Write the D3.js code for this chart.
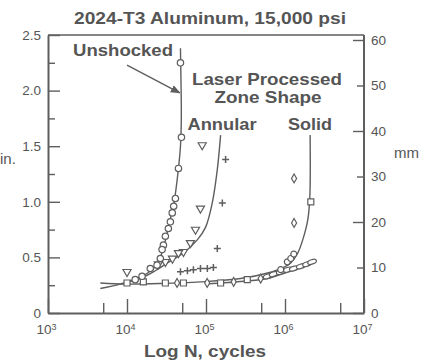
<!DOCTYPE html>
<html>
<head>
<meta charset="utf-8">
<script src="https://cdn.jsdelivr.net/npm/d3@7"></script>
<style>
  html, body { margin: 0; padding: 0; background: #fff; }
  svg { display: block; }
  text { font-family: "Liberation Sans", Arial, sans-serif; fill: #555; }
</style>
</head>
<body>
<svg id="chart" width="425" height="361"></svg>
<script>
// Crack length a (in.) versus cycles N for 2024-T3 aluminium at 15,000 psi

// Unshocked specimens (circles)
const unshockedN = [47500, 48900, 44800, 41000, 39000, 37400, 35400, 33400, 30600, 28900, 27800, 26400, 24000, 19700, 15500, 12700];
const unshockedA = [2.25, 1.58, 1.30, 1.03, 0.96, 0.90, 0.82, 0.76, 0.69, 0.61, 0.57, 0.49, 0.43, 0.40, 0.33, 0.30];

// Annular laser-processed zone (inverted triangles)
const annularTriN = [89500, 85100, 73600, 63500, 51800, 44800, 37600, 30600, 24900, 10000];
const annularTriA = [1.51, 0.94, 0.75, 0.63, 0.55, 0.54, 0.49, 0.46, 0.44, 0.37];

// Annular laser-processed zone (plus signs)
const annularPlusN = [177000, 161000, 139000, 124000, 104000, 85100, 69300, 58200, 47500];
const annularPlusA = [1.38, 0.99, 0.58, 0.41, 0.40, 0.40, 0.39, 0.38, 0.37];

// Solid laser-processed zone (squares)
const solidSqN = [2122000, 10000, 16100, 30600, 51800, 153000, 333000];
const solidSqA = [1.00, 0.27, 0.28, 0.27, 0.27, 0.27, 0.30];

// Solid laser-processed zone (diamonds)
const solidDiaN = [1303000, 1303000, 103500, 224000, 492000, 43000];
const solidDiaA = [1.21, 0.81, 0.27, 0.28, 0.31, 0.27];

// Solid laser-processed zone (circles near the knee)
const solidCircN = [883000, 1070000, 1183000, 1292000];
const solidCircA = [0.39, 0.46, 0.49, 0.53];

// Long-life band (elongated circles)
const bandN = [604000, 720000, 883000, 1084000, 1292000, 1585000, 1900000, 2200000];
const bandA = [0.33, 0.35, 0.37, 0.39, 0.40, 0.42, 0.44, 0.46];

// Fitted curves
const unshockedCurveN = [11000, 15500, 20000, 24000, 27000, 30000, 33000, 36000, 39500, 44000, 47500, 48700, 48200, 47500];
const unshockedCurveA = [0.29, 0.33, 0.38, 0.44, 0.52, 0.63, 0.75, 0.87, 1.00, 1.25, 1.50, 1.75, 2.10, 2.38];
const annularCurveN = [4600, 8200, 14700, 22800, 32400, 51800, 78000, 98600, 120000, 139000, 153000];
const annularCurveA = [0.22, 0.26, 0.31, 0.38, 0.45, 0.54, 0.66, 0.77, 0.99, 1.29, 1.60];
const solidCurveN = [4600, 9500, 26400, 85000, 274000, 604000, 960000, 1183000, 1453000, 1680000, 1944000, 2061000, 2080000];
const solidCurveA = [0.27, 0.26, 0.265, 0.28, 0.31, 0.36, 0.41, 0.45, 0.54, 0.66, 0.84, 1.04, 1.60];
const bandCurveN = [100000, 300000, 600000, 1000000, 1500000, 2200000];
const bandCurveA = [0.26, 0.285, 0.31, 0.36, 0.40, 0.445];

// Axis ticks
const inchTicks = [0, 0.5, 1.0, 1.5, 2.0, 2.5];
const inchMinor = [0.25, 0.75, 1.25, 1.75, 2.25];
const mmTicks = [0, 10, 20, 30, 40, 50, 60];
const decadeTicks = [1e3, 1e4, 1e5, 1e6, 1e7];
const halfDecadeTicks = [5e3, 5e4, 5e5, 5e6];

// Annotation arrow for "Unshocked" (data units)
const arrowFrom = [10000, 2.23];
const arrowTo = [46500, 1.98];

const ink = "#5e5e5e";
const svg = d3.select("#chart");

const x = d3.scaleLog().domain([1e3, 1e7]).range([48, 364]);
const y = d3.scaleLinear().domain([0, 2.5]).range([313, 35]);
const yMm = d3.scaleLinear().domain([0, 60]).range([313, 40]);

// Frame
svg.append("line").attr("x1", 48).attr("x2", 364).attr("y1", 35).attr("y2", 35)
  .attr("stroke", ink).attr("stroke-width", 1.6);

function styleAxis(g) {
  g.select(".domain").attr("stroke", ink).attr("stroke-width", 2);
  g.selectAll(".tick line").attr("stroke", ink).attr("stroke-width", 1.4);
  g.selectAll(".tick text").attr("fill", "#555").style("font-family", "Liberation Sans, Arial, sans-serif");
}

// Left axis (inches)
const gLeft = svg.append("g").attr("transform", "translate(48,0)")
  .call(d3.axisLeft(y).tickValues(inchTicks).tickSizeInner(-12).tickSizeOuter(0).tickPadding(7)
    .tickFormat(d => d === 0 ? "0" : d3.format(".1f")(d)));
styleAxis(gLeft);
gLeft.selectAll(".tick text").style("font-size", "13.5px");
const gLeftMinor = svg.append("g").attr("transform", "translate(48,0)")
  .call(d3.axisLeft(y).tickValues(inchMinor).tickSizeInner(-7).tickSizeOuter(0).tickFormat(""));
styleAxis(gLeftMinor);
gLeftMinor.select(".domain").remove();

// Right axis (mm)
const gRight = svg.append("g").attr("transform", "translate(364,0)")
  .call(d3.axisRight(yMm).tickValues(mmTicks).tickSizeInner(-11).tickSizeOuter(0).tickPadding(7));
styleAxis(gRight);
gRight.selectAll(".tick line").attr("x2", d => (d % 20 === 0 ? -11 : -7));
gRight.selectAll(".tick text").style("font-size", "13.5px");
gRight.select(".domain").attr("d", "M0,35V313");

// Bottom axis (log cycles)
const gBottom = svg.append("g").attr("transform", "translate(0,313)")
  .call(d3.axisBottom(x).tickValues(decadeTicks).tickSizeInner(-14).tickSizeOuter(0).tickPadding(11).tickFormat(""));
styleAxis(gBottom);
gBottom.selectAll(".tick text").each(function (d) {
  const t = d3.select(this).style("font-size", "13.5px").attr("x", -2);
  t.append("tspan").text("10");
  t.append("tspan").text(Math.round(Math.log10(d))).attr("dy", "-0.45em").style("font-size", "9px");
});
const gBottomMinor = svg.append("g").attr("transform", "translate(0,313)")
  .call(d3.axisBottom(x).tickValues(halfDecadeTicks).tickSizeInner(-10).tickSizeOuter(0).tickFormat(""));
styleAxis(gBottomMinor);
gBottomMinor.select(".domain").remove();

// Curves
const line = d3.line().x(d => x(d[0])).y(d => y(d[1])).curve(d3.curveCatmullRom.alpha(0.5));
function curve(ns, as) {
  svg.append("path").datum(ns.map((n, i) => [n, as[i]])).attr("d", line)
    .attr("fill", "none").attr("stroke", ink).attr("stroke-width", 1.4);
}
curve(unshockedCurveN, unshockedCurveA);
curve(annularCurveN, annularCurveA);
curve(solidCurveN, solidCurveA);
curve(bandCurveN, bandCurveA);

// Markers
function markers(ns, as, type, size) {
  const pts = ns.map((n, i) => [n, as[i]]);
  const g = svg.append("g");
  if (type === "plus") {
    g.selectAll("path").data(pts).join("path")
      .attr("d", d => { const cx = x(d[0]), cy = y(d[1]), s = size; return `M${cx - s},${cy}H${cx + s}M${cx},${cy - s}V${cy + s}`; })
      .attr("stroke", ink).attr("stroke-width", 1.5).attr("fill", "none");
  } else if (type === "ellipse") {
    g.selectAll("ellipse").data(pts).join("ellipse")
      .attr("cx", d => x(d[0])).attr("cy", d => y(d[1])).attr("rx", size + 1.5).attr("ry", size - 0.8)
      .attr("transform", d => `rotate(-18,${x(d[0])},${y(d[1])})`)
      .attr("fill", "#fff").attr("stroke", ink).attr("stroke-width", 1.2);
  } else {
    const sym = { circle: d3.symbolCircle, square: d3.symbolSquare, diamond: d3.symbolDiamond, triangle: d3.symbolTriangle }[type];
    const area = type === "circle" ? Math.PI * size * size : (type === "square" ? (2 * size) ** 2 : 2.2 * size * size);
    g.selectAll("path").data(pts).join("path")
      .attr("d", d3.symbol().type(sym).size(area))
      .attr("transform", d => `translate(${x(d[0])},${y(d[1])})${type === "triangle" ? " rotate(180)" : ""}`)
      .attr("fill", "#fff").attr("stroke", ink).attr("stroke-width", 1.2);
  }
}
markers(bandN, bandA, "ellipse", 3);
markers(solidCircN, solidCircA, "circle", 3);
markers(solidSqN, solidSqA, "square", 3);
markers(solidDiaN, solidDiaA, "diamond", 3.2);
markers(annularPlusN, annularPlusA, "plus", 3.5);
markers(annularTriN, annularTriA, "triangle", 3.6);
markers(unshockedN, unshockedA, "circle", 3.2);

// Arrow pointing to the unshocked curve
svg.append("defs").append("marker").attr("id", "head").attr("viewBox", "0 0 10 10")
  .attr("refX", 9).attr("refY", 5).attr("markerWidth", 7).attr("markerHeight", 7).attr("orient", "auto")
  .append("path").attr("d", "M0,1L10,5L0,9Z").attr("fill", ink);
svg.append("line")
  .attr("x1", x(arrowFrom[0])).attr("y1", y(arrowFrom[1]))
  .attr("x2", x(arrowTo[0])).attr("y2", y(arrowTo[1]))
  .attr("stroke", ink).attr("stroke-width", 1.4).attr("marker-end", "url(#head)");

// Text (widths set to the printed lettering)
function label(txt, tx, ty, size, anchor, weight, width) {
  const t = svg.append("text").attr("x", tx).attr("y", ty).attr("text-anchor", anchor || "middle")
    .style("font-size", size + "px").style("font-weight", weight || "bold").text(txt);
  if (width) t.attr("textLength", width).attr("lengthAdjust", "spacingAndGlyphs");
  return t;
}
label("2024-T3 Aluminum, 15,000 psi", 210, 24, 16.5, "middle", "bold", 272);
label("Unshocked", 123, 56, 16.5, "middle", "bold", 100);
label("Laser Processed", 267, 85, 16.5, "middle", "bold", 150);
label("Zone Shape", 268, 103, 16.5, "middle", "bold", 107);
label("Annular", 222, 130, 16.5, "middle", "bold", 69);
label("Solid", 310, 130, 16.5, "middle", "bold", 44);
label("Log N, cycles", 205, 357, 16.5, "middle", "bold", 122);
label("in.", 0, 164, 15, "start", "normal");
label("mm", 394, 158, 15, "start", "normal");
</script>
</body>
</html>
